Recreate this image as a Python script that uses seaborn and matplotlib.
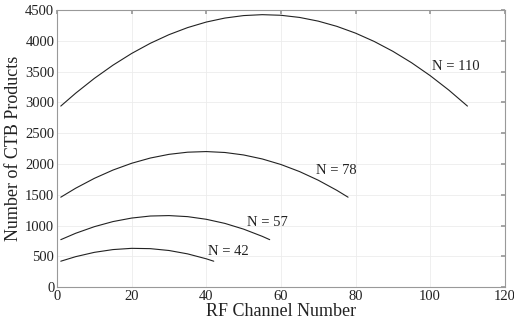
import pandas as pd
import matplotlib.pyplot as plt
import seaborn as sns

# channel positions and CTB counts
ch_110 = [1, 5, 10, 15, 20, 25, 30, 35, 40, 45, 50, 55, 60, 65, 70, 75, 80, 85, 90, 95, 100, 105, 110]
ctb_110 = [2940, 3150, 3390, 3605, 3795, 3960, 4100, 4215, 4305, 4370, 4410, 4425, 4415, 4380,
           4320, 4235, 4125, 3990, 3830, 3645, 3435, 3200, 2940]
ch_78 = [1, 5, 10, 15, 20, 25, 30, 35, 40, 45, 50, 55, 60, 65, 70, 75, 78]
ctb_78 = [1460, 1606, 1766, 1901, 2011, 2096, 2156, 2191, 2201, 2186, 2146, 2081, 1991, 1876, 1736, 1571, 1460]
ch_57 = [1, 5, 10, 15, 20, 25, 30, 35, 40, 45, 50, 55, 57]
ctb_57 = [770, 874, 981, 1064, 1121, 1154, 1161, 1144, 1101, 1034, 941, 824, 770]
ch_42 = [1, 5, 10, 15, 20, 25, 30, 35, 40, 42]
ctb_42 = [420, 494, 564, 609, 629, 624, 594, 539, 459, 420]

labels = ['N = 110', 'N = 78', 'N = 57', 'N = 42']
label_x = [100.5, 69.5, 51, 40.5]
label_y = [3590, 1900, 1056, 570]

frames = []
for lab, x, y in zip(labels, [ch_110, ch_78, ch_57, ch_42], [ctb_110, ctb_78, ctb_57, ctb_42]):
    frames.append(pd.DataFrame({'channel': x, 'ctb': y, 'N': lab}))
df = pd.concat(frames, ignore_index=True)

sns.set_theme(style='white')
plt.rcParams['font.family'] = ['Liberation Serif', 'DejaVu Serif']
plt.rcParams['mathtext.fontset'] = 'stix'

fig = plt.figure(figsize=(5.14, 3.24), dpi=100)
ax = fig.add_axes([0.111, 0.114, 0.871, 0.855])

sns.lineplot(data=df, x='channel', y='ctb', units='N', estimator=None,
             color='#222222', linewidth=0.8, ax=ax, legend=False, sort=False)

for lab, x, y in zip(labels, label_x, label_y):
    ax.text(x, y, lab, fontsize=10.5, va='center', ha='left', color='#222222')

ax.set_xlim(0, 120)
ax.set_ylim(0, 4500)
ax.set_xticks(range(0, 121, 20))
ax.set_yticks(range(0, 4501, 500))
ax.grid(True, color='#ececec', linewidth=0.6)
ax.tick_params(direction='in', length=3, labelsize=10.5, colors='#999999', labelcolor='#222222',
               top=True, right=True, pad=2)
for s in ax.spines.values():
    s.set_color('#999999')
    s.set_linewidth(0.8)

ax.set_xlabel('RF Channel Number', fontsize=13, labelpad=0, color='#222222')
ax.set_ylabel('Number of CTB Products', fontsize=13, labelpad=2, color='#222222')

fig.savefig('out.png', dpi=100)
